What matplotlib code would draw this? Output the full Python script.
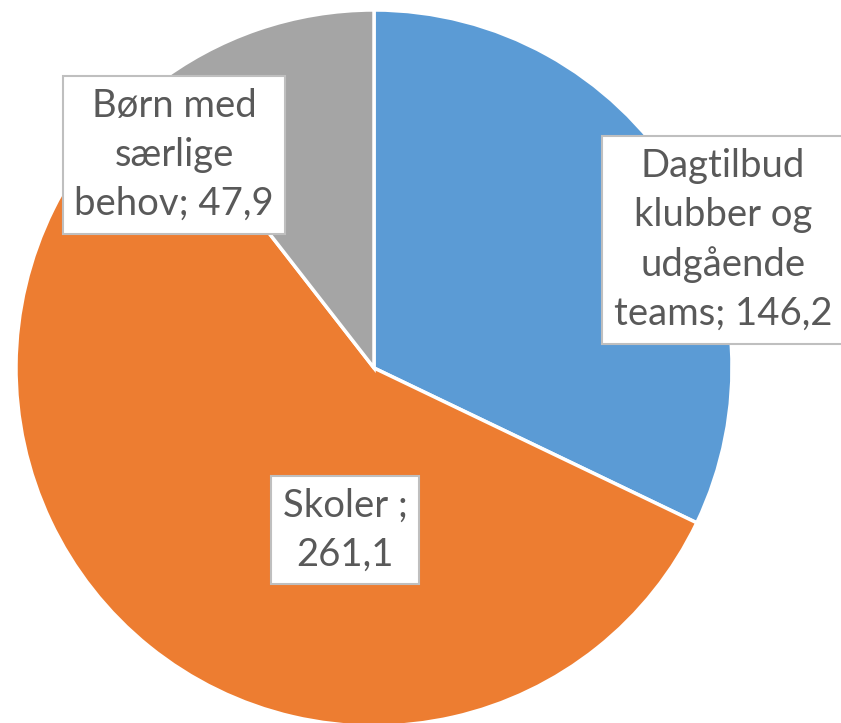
import matplotlib
matplotlib.use("Agg")
import matplotlib.pyplot as plt

# Data
labels = ["Dagtilbud\nklubber og\nudgående\nteams; 146,2", "Skoler ;\n261,1", "Børn med\nsærlige\nbehov; 47,9"]
values = [146.2, 261.1, 47.9]
colors = ["#5B9BD5", "#ED7D31", "#A5A5A5"]

# label centres in pixel coords (from top-left)
label_pos = [(723, 240), (345, 530), (174, 155)]

W, H = 841, 723
fig = plt.figure(figsize=(W / 100, H / 100), dpi=100)
ax = fig.add_axes([0, 0, 1, 1])

cx, cy, r = 374, H - 368, 358
ax.pie(values, colors=colors, startangle=90, counterclock=False,
       radius=r, center=(cx, cy), frame=True,
       wedgeprops=dict(edgecolor="white", linewidth=2.5))
ax.set_xlim(0, W)
ax.set_ylim(0, H)
ax.set_aspect("auto")
ax.axis("off")

for lab, (x, y) in zip(labels, label_pos):
    ax.text(x, H - y, lab, ha="center", va="center", fontsize=27.5,
            family="Lato", color="#595959", linespacing=1.45,
            bbox=dict(boxstyle="square,pad=0.3", fc="white", ec="#BFBFBF", lw=1.5))

fig.savefig("out.png", dpi=100)
